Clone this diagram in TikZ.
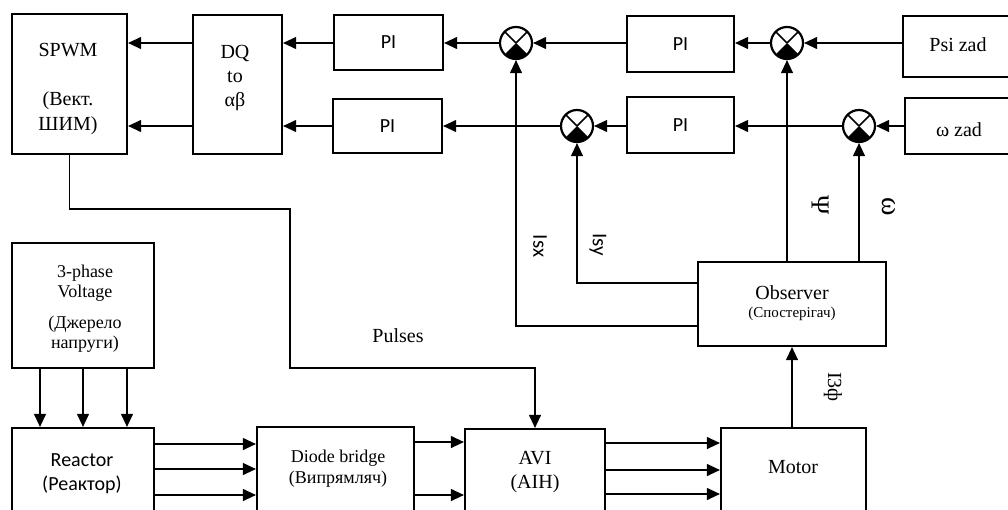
\documentclass[tikz,border=0pt]{standalone}
\usepackage{fontspec}
\setmainfont{Liberation Serif}
\newfontfamily\calib{Carlito}
\usetikzlibrary{arrows.meta}
\begin{document}
\begin{tikzpicture}[x=1pt,y=-1pt,
  box/.style={draw,line width=2.2pt,inner sep=0pt},
  conn/.style={line width=1.1pt},
  arr/.style={conn,-{Triangle[length=13pt,width=12pt]}},
  sumj/.style={circle,draw,line width=2.2pt,minimum size=32pt,inner sep=0pt,
    path picture={
      \fill (path picture bounding box.center) -- ++(-45:17pt) arc[start angle=-45,end angle=-135,radius=17pt] -- cycle;
      \draw[line width=1.6pt] (path picture bounding box.center) -- ++(45:17pt)
        (path picture bounding box.center) -- ++(135:17pt);
    }},
  sr20/.style={inner sep=0pt,font=\fontsize{20}{24}\selectfont,align=center},
  sr18/.style={inner sep=0pt,font=\fontsize{18}{20}\selectfont,align=center},
  sr15/.style={inner sep=0pt,font=\fontsize{15}{18}\selectfont,align=center},
  sn20/.style={inner sep=0pt,font=\calib\fontsize{20}{24}\selectfont,align=center},
  sn21/.style={inner sep=0pt,font=\calib\fontsize{21}{24}\selectfont,align=center}
]
\useasboundingbox (0,0) rectangle (1008,509);
\clip (0,0) rectangle (1008,509);

% boxes
\node[box,minimum width=115pt,minimum height=140pt] (spwm) at (69.5,84) {};
\node[box,minimum width=89pt,minimum height=139pt] (dq) at (237.5,84.5) {};
\node[box,minimum width=109pt,minimum height=55pt] (pi1t) at (388.5,42.5) {};
\node[box,minimum width=109pt,minimum height=54pt] (pi1b) at (387.5,126) {};
\node[box,minimum width=107pt,minimum height=56pt] (pi2t) at (680.5,44) {};
\node[box,minimum width=107pt,minimum height=56pt] (pi2b) at (680.5,125) {};
\node[box,minimum width=127pt,minimum height=61pt] (psib) at (966.5,46.5) {};
\node[box,minimum width=125pt,minimum height=56pt] (omb) at (967.5,126) {};
\node[sumj] (s1) at (516,43) {};
\node[sumj] (s2) at (787,43) {};
\node[sumj] (s3) at (577,126) {};
\node[sumj] (s4) at (859,126) {};
\node[box,minimum width=188pt,minimum height=84pt] (obs) at (792,304) {};
\node[box,minimum width=142pt,minimum height=125pt] (tp) at (83,305.5) {};
\node[box,minimum width=142pt,minimum height=102pt] (react) at (83,479) {};
\node[box,minimum width=157pt,minimum height=103pt] (diode) at (335.5,478.5) {};
\node[box,minimum width=140pt,minimum height=101pt] (avi) at (535,479.5) {};
\node[box,minimum width=145pt,minimum height=102pt] (motor) at (793.5,479) {};

% texts
\node[sr20] (tspwm) at (68,50) {SPWM};
\node[sr20,font=\fontsize{20}{25}\selectfont] (tvekt) at (68,113) {(Вект.\\ШИМ)};
\node[sr20] (tdq) at (235,78) {DQ\\to\\αβ};
\node[sn20] (tpi1t) at (pi1t) {PI};
\node[sn20] (tpi1b) at (pi1b) {PI};
\node[sn20] (tpi2t) at (pi2t) {PI};
\node[sn20] (tpi2b) at (pi2b) {PI};
\node[sr20] (tpsi) at (958,45) {Psi zad};
\node[sr20] (tom) at (959,130) {ω zad};
\node[sr20,font=\fontsize{26}{28}\selectfont,rotate=-90] (tPsi) at (820,205) {Ψ};
\node[sr20,font=\fontsize{28}{30}\selectfont,rotate=-90] (tomega) at (889,207) {ω};
\node[sn21,rotate=-90] (tisx) at (540,246) {Isx};
\node[sn21,rotate=-90] (tisy) at (598,245) {Isy};
\node[sr20] (tobs1) at (792,293) {Observer};
\node[sr15] (tobs2) at (792,314) {(Спостерігач)};
\node[sr20,rotate=-90] (ti3) at (833,387) {I3ф};
\node[sr20] (tpulses) at (398,336) {Pulses};
\node[sr18] (ttp1) at (85,283) {3-phase\\Voltage};
\node[sr18] (ttp2) at (85,334) {(Джерело\\напруги)};
\node[sn20] (treact) at (82,474) {Reactor\\(Реактор)};
\node[sr18,font=\fontsize{18}{21}\selectfont] (tdiode) at (338,469) {Diode bridge\\(Випрямляч)};
\node[sr20] (tavi) at (535,472) {AVI\\(АІН)};
\node[sr20] (tmotor) at (793,467) {Motor};

% helper coordinates
\coordinate (yisy) at (0,283);
\coordinate (yisx) at (0,326);
\coordinate (p1) at (290,209);
\coordinate (p2) at (290,368);
\coordinate (v1) at (40,0);
\coordinate (v2) at (83,0);
\coordinate (v3) at (127,0);
\coordinate (ya1) at (0,444);
\coordinate (ya2) at (0,469);
\coordinate (ya3) at (0,495);
\coordinate (yb1) at (0,442);
\coordinate (yb2) at (0,495);
\coordinate (yc1) at (0,443);
\coordinate (yc2) at (0,470);
\coordinate (yc3) at (0,494);

% top row
\draw[arr] (psib.west |- s2) -- (s2);
\draw[arr] (s2) -- (pi2t.east |- s2);
\draw[arr] (pi2t.west |- s1) -- (s1);
\draw[arr] (s1) -- (pi1t.east |- s1);
\draw[arr] (pi1t.west |- s1) -- (dq.east |- s1);
\draw[arr] (dq.west |- s1) -- (spwm.east |- s1);
% bottom row
\draw[arr] (omb.west |- s4) -- (s4);
\draw[arr] (s4) -- (pi2b.east |- s4);
\draw[arr] (pi2b.west |- s3) -- (s3);
\draw[arr] (s3) -- (pi1b.east |- s3);
\draw[arr] (pi1b.west |- s3) -- (dq.east |- s3);
\draw[arr] (dq.west |- s3) -- (spwm.east |- s3);
% feedback
\draw[arr] (obs.west |- yisx) -| (s1);
\draw[arr] (obs.west |- yisy) -| (s3);
\draw[arr] (s2 |- obs.north) -- (s2);
\draw[arr] (s4 |- obs.north) -- (s4);
\draw[arr] (obs.south |- motor.north) -- (obs.south);
% pulses
\draw[arr] (spwm.south) |- (p1) -- (p2) -| (avi.north);
% power path
\draw[arr] (tp.south -| v1) -- (react.north -| v1);
\draw[arr] (tp.south -| v2) -- (react.north -| v2);
\draw[arr] (tp.south -| v3) -- (react.north -| v3);
\draw[arr] (react.east |- ya1) -- (diode.west |- ya1);
\draw[arr] (react.east |- ya2) -- (diode.west |- ya2);
\draw[arr] (react.east |- ya3) -- (diode.west |- ya3);
\draw[arr] (diode.east |- yb1) -- (avi.west |- yb1);
\draw[arr] (diode.east |- yb2) -- (avi.west |- yb2);
\draw[arr] (avi.east |- yc1) -- (motor.west |- yc1);
\draw[arr] (avi.east |- yc2) -- (motor.west |- yc2);
\draw[arr] (avi.east |- yc3) -- (motor.west |- yc3);
\end{tikzpicture}
\end{document}
